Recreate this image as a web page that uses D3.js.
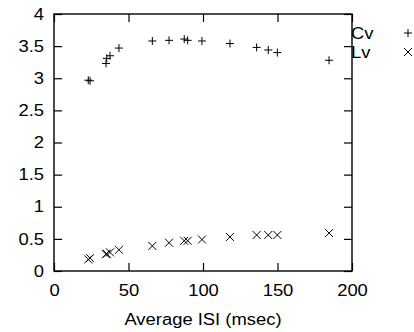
<!DOCTYPE html>
<html>
<head>
<meta charset="utf-8">
<script src="https://cdn.jsdelivr.net/npm/d3@7"></script>
<style>
  body { margin: 0; background: #fff; }
  text { font-family: "Liberation Sans", Arial, sans-serif; font-size: 16px; fill: #000; }
</style>
</head>
<body>
<svg id="chart" width="414" height="332"></svg>
<script>
// datos
const isi = [23.0, 24.2, 34.9, 35.4, 37.6, 43.6, 66.0, 77.2, 87.4, 89.7, 99.3, 118.1, 136.0, 143.8, 149.9, 184.6];
const cv  = [2.97, 2.96, 3.23, 3.31, 3.35, 3.47, 3.58, 3.59, 3.61, 3.59, 3.58, 3.54, 3.48, 3.44, 3.40, 3.28];
const lv  = [0.18, 0.20, 0.26, 0.27, 0.29, 0.33, 0.39, 0.44, 0.47, 0.47, 0.49, 0.53, 0.56, 0.56, 0.56, 0.59];
const xTicks = [0, 50, 100, 150, 200];
const yTicks = [0, 0.5, 1, 1.5, 2, 2.5, 3, 3.5, 4];
const seriesNames = ["Cv", "Lv"];

const svg = d3.select("#chart");
const margin = { top: 14, right: 62, bottom: 61, left: 54 },
      W = 414, H = 332;

const x = d3.scaleLinear().domain([0, 200]).range([margin.left, W - margin.right]);
const y = d3.scaleLinear().domain([0, 4]).range([H - margin.bottom, margin.top]);
const tick = 8;

// ejes (ticks hacia dentro, espejados)
svg.append("g")
  .attr("transform", `translate(0,${y(0)})`)
  .call(d3.axisBottom(x).tickValues(xTicks).tickSizeInner(-tick).tickSizeOuter(0).tickPadding(14).tickFormat(d3.format("d")))
  .call(g => g.select(".domain").remove());
svg.append("g")
  .attr("transform", `translate(0,${y(4)})`)
  .call(d3.axisTop(x).tickValues(xTicks).tickSizeInner(-tick).tickSizeOuter(0).tickFormat(""))
  .call(g => g.select(".domain").remove());
svg.append("g")
  .attr("transform", `translate(${x(0)},0)`)
  .call(d3.axisLeft(y).tickValues(yTicks).tickSizeInner(-tick).tickSizeOuter(0).tickPadding(10).tickFormat(d => d))
  .call(g => g.select(".domain").remove());
svg.append("g")
  .attr("transform", `translate(${x(200)},0)`)
  .call(d3.axisRight(y).tickValues(yTicks).tickSizeInner(-tick).tickSizeOuter(0).tickFormat(""))
  .call(g => g.select(".domain").remove());

svg.selectAll(".tick line").style("stroke", "#000").style("stroke-width", 1.2);
svg.selectAll(".tick text").style("font-size", "16px").style("font-family", "Liberation Sans, Arial, sans-serif").style("fill", "#000");

// borde
svg.append("rect")
  .attr("x", x(0)).attr("y", y(4))
  .attr("width", x(200) - x(0)).attr("height", y(0) - y(4))
  .style("fill", "none").style("stroke", "#000").style("stroke-width", 1.4);

// marcadores
const s = 4;
function plus(g, px, py) {
  g.append("path").attr("d", `M${px - s},${py}H${px + s}M${px},${py - s}V${py + s}`);
}
function cross(g, px, py) {
  g.append("path").attr("d", `M${px - s},${py - s}L${px + s},${py + s}M${px - s},${py + s}L${px + s},${py - s}`);
}

const marks = svg.append("g").style("stroke", "#000").style("stroke-width", 1).style("fill", "none");
isi.forEach((d, i) => {
  plus(marks, x(d), y(cv[i]));
  cross(marks, x(d), y(lv[i]));
});

// leyenda
const leg = svg.append("g");
seriesNames.forEach((n, i) => {
  const ly = 33 + i * 19;
  leg.append("text").attr("x", 351).attr("y", ly).attr("dy", "0.35em").text(n);
  const lg = leg.append("g").style("stroke", "#000").style("stroke-width", 1).style("fill", "none");
  if (i === 0) plus(lg, 408, ly); else cross(lg, 408, ly);
});

// título eje x
svg.append("text")
  .attr("x", (x(0) + x(200)) / 2)
  .attr("y", 325)
  .attr("text-anchor", "middle")
  .text("Average ISI (msec)");

// el texto del original sale algo más ancho
svg.selectAll("text").each(function() {
  const w = this.getComputedTextLength();
  if (w > 0) d3.select(this).attr("textLength", w * 1.15).attr("lengthAdjust", "spacingAndGlyphs");
});
</script>
</body>
</html>
